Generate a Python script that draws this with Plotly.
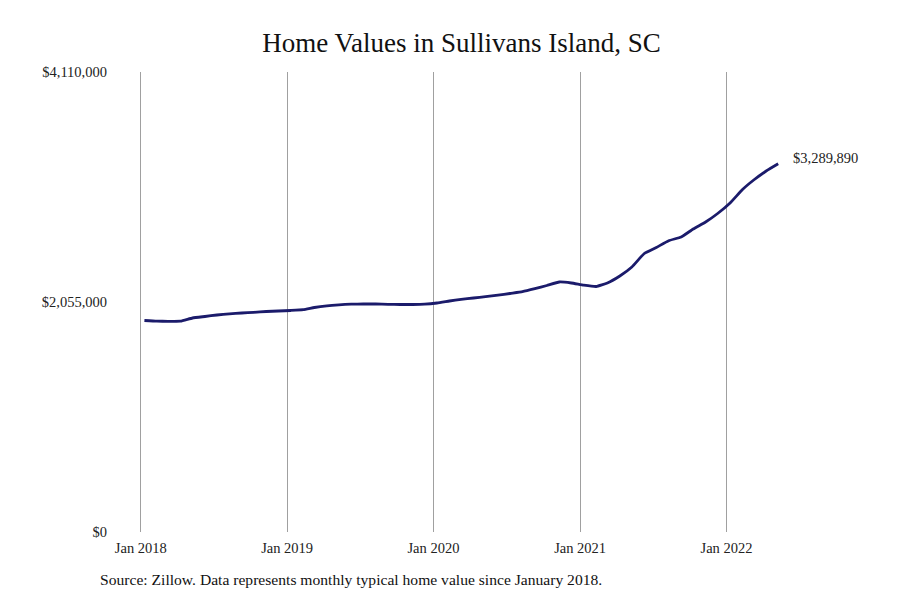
import pandas as pd
import plotly.graph_objects as go

# Monthly typical home value, Jan 2018 - May 2022
months = pd.date_range("2018-01-01", periods=53, freq="MS") + pd.Timedelta(days=9)
values = [
    1889700, 1883500, 1882600, 1883500, 1912000, 1925500, 1938900, 1949600,
    1956700, 1963000, 1970100, 1974600, 1979100, 1986200, 2005900, 2021000,
    2030000, 2035400, 2037100, 2037100, 2034500, 2032700, 2032700, 2035400,
    2046100, 2063900, 2079100, 2090700, 2102400, 2115800, 2131000, 2147000,
    2173800, 2202400, 2233700, 2224800, 2205100, 2193500, 2224800, 2287300,
    2367700, 2488300, 2542000, 2602800, 2635800, 2707200, 2769800, 2845700,
    2939600, 3060200, 3145000, 3225500, 3289890,
]
y_ticks = [0, 2055000, 4110000]
y_tick_labels = ["$0", "$2,055,000", "$4,110,000"]
title_text = "Home Values in Sullivans Island, SC"
source_text = "Source: Zillow. Data represents monthly typical home value since January 2018."
end_label = "$3,289,890"

FONT = "Liberation Serif"
OFF = 8  # page body margin of the html page
L, R, T, B = 130, 121, 64, 76
PW, PH = 900 - L - R, 600 - T - B

fig = go.Figure()
fig.add_trace(go.Scatter(
    x=months, y=values, mode="lines",
    line=dict(color="#1b1b6b", width=2.8, shape="spline", smoothing=0.4),
    hoverinfo="skip", showlegend=False,
))

fig.add_annotation(
    x=months[-1], y=values[-1], xref="x", yref="y",
    text=end_label, showarrow=False, xanchor="left", yanchor="middle",
    xshift=13, yshift=6, font=dict(family=FONT, size=14.5, color="#222222"),
)
fig.add_annotation(
    x=(98 - OFF - L) / PW, y=(600 - B - (579 - OFF)) / PH,
    xref="paper", yref="paper",
    text=source_text, showarrow=False, xanchor="left", yanchor="middle",
    font=dict(family=FONT, size=15.6, color="#111111"),
)

fig.update_layout(
    width=900, height=600,
    paper_bgcolor="white", plot_bgcolor="white",
    margin=dict(l=L, r=R, t=T, b=B),
    title=dict(text=title_text, x=(461.5 - OFF) / 900, xanchor="center",
               y=1 - (43 - OFF) / 600, yanchor="middle", yref="container",
               font=dict(family=FONT, size=27, color="#111111")),
    font=dict(family=FONT, size=14.5, color="#222222"),
    xaxis=dict(
        type="date", range=["2017-12-25", "2022-06-01"],
        tick0="2018-01-01", dtick="M12", tickformat="%b %Y",
        showgrid=True, gridcolor="#a0a0a0", gridwidth=1,
        zeroline=False, showline=False, ticks="",
        ticklabelstandoff=5,
        tickfont=dict(family=FONT, size=14.5, color="#222222"),
        fixedrange=True,
    ),
    yaxis=dict(
        range=[0, 4110000], tickvals=y_ticks, ticktext=y_tick_labels,
        showgrid=False, zeroline=False, showline=False, ticks="",
        ticklabelstandoff=30,
        tickfont=dict(family=FONT, size=14.5, color="#222222"),
        fixedrange=True,
    ),
)

fig.write_html("out.html")
